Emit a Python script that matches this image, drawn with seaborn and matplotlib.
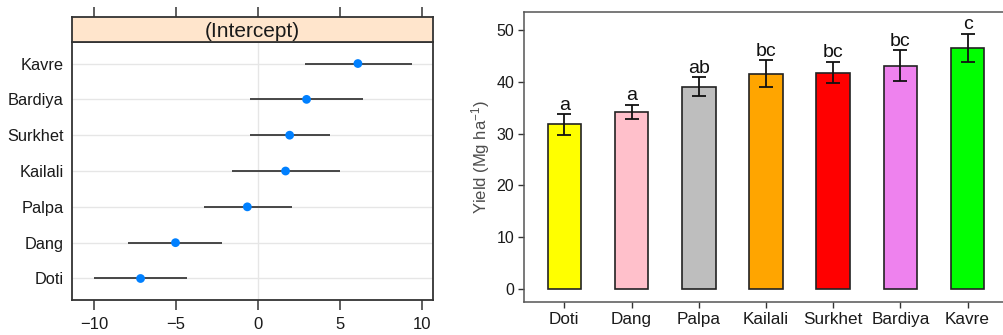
import matplotlib
matplotlib.use('Agg')
import matplotlib.pyplot as plt
import seaborn as sns
import pandas as pd

# random intercepts per district (lower CI, estimate, upper CI)
districts = ['Doti', 'Dang', 'Palpa', 'Kailali', 'Surkhet', 'Bardiya', 'Kavre']
intercept = [-7.16, -5.03, -0.65, 1.68, 1.93, 2.96, 6.09]
ci_low = [-10.02, -7.91, -3.31, -1.56, -0.51, -0.47, 2.84]
ci_high = [-4.30, -2.19, 2.07, 4.97, 4.38, 6.43, 9.37]

# mean yield per district with error bars and letter groups
yield_mean = [31.8, 34.1, 39.0, 41.5, 41.7, 43.0, 46.5]
yield_low = [29.8, 32.8, 37.3, 39.0, 39.7, 40.2, 43.8]
yield_high = [33.7, 35.5, 40.8, 44.1, 43.8, 46.0, 49.2]
groups = ['a', 'a', 'ab', 'bc', 'bc', 'bc', 'c']
bar_colors = ['#FFFF00', '#FFC0CB', '#BEBEBE', '#FFA500', '#FF0000', '#EE82EE', '#00FF00']

sns.set_style('white')
plt.rcParams['font.family'] = ['Liberation Sans', 'DejaVu Sans']
plt.rcParams['mathtext.default'] = 'regular'

fig = plt.figure(figsize=(10.04, 3.35), dpi=100)

# ---- left: dotplot of intercepts (lattice look) ----
ax1 = fig.add_axes([0.0717, 0.1045, 0.3596, 0.770])
strip = fig.add_axes([0.0717, 0.8746, 0.3596, 0.0746])

df1 = pd.DataFrame({'district': districts, 'est': intercept,
                    'lo': ci_low, 'hi': ci_high})
df1['pos'] = range(1, len(districts) + 1)

for p in df1['pos']:
    ax1.axhline(p, color='#E6E6E6', lw=1, zorder=0)
ax1.axvline(0, color='#E6E6E6', lw=1, zorder=0)
ax1.hlines(df1['pos'], df1['lo'], df1['hi'], color='#3A3A3A', lw=1.3, zorder=2)
sns.scatterplot(data=df1, x='est', y='pos', ax=ax1, color='#0080FF',
                s=40, edgecolor='none', zorder=3, legend=False)
ax1.set_xlim(-11.34, 10.67)
ax1.set_ylim(0.4, 7.6)
ax1.set_yticks(df1['pos'])
ax1.set_yticklabels(districts)
ax1.set_xticks([-10, -5, 0, 5, 10])
ax1.set_xticklabels(['\u221210', '\u22125', '0', '5', '10'])
ax1.set_xlabel('')
ax1.set_ylabel('')
ax1.tick_params(axis='y', left=False, length=0, pad=6, labelsize=11.8,
                colors='#1A1A1A')
ax1.tick_params(axis='x', bottom=True, length=7, width=1.1, color='#333333',
                pad=5, labelsize=12, labelcolor='#1A1A1A', direction='out')
for s in ax1.spines.values():
    s.set_color('#333333')
    s.set_linewidth(1.3)

strip.set_facecolor('#FFE5CC')
strip.set_xlim(ax1.get_xlim())
strip.set_ylim(0, 1)
strip.set_yticks([])
strip.set_xticks([-10, -5, 0, 5, 10])
strip.xaxis.set_ticks_position('top')
strip.tick_params(axis='x', top=True, length=7, width=1.1, color='#333333',
                  labeltop=False, labelbottom=False, direction='out')
strip.text(0.5, 0.42, '(Intercept)', transform=strip.transAxes, ha='center',
           va='center', fontsize=15, color='#1A1A1A')
for s in strip.spines.values():
    s.set_color('#333333')
    s.set_linewidth(1.3)

# ---- right: bar chart of yield ----
ax2 = fig.add_axes([0.5219, 0.0985, 0.482, 0.8657])
df2 = pd.DataFrame({'district': districts, 'yield': yield_mean})
sns.barplot(data=df2, x='district', y='yield', hue='district', palette=bar_colors,
            saturation=1, width=0.5, edgecolor='#222222', linewidth=1.2,
            legend=False, ax=ax2)
xs = list(range(len(districts)))
err = [[m - l for m, l in zip(yield_mean, yield_low)],
       [h - m for m, h in zip(yield_mean, yield_high)]]
ax2.errorbar(xs, yield_mean, yerr=err, fmt='none', ecolor='#111111',
             elinewidth=1.3, capsize=4.8, capthick=1.3, zorder=4)
for x, h, g in zip(xs, yield_high, groups):
    ax2.text(x, h + 0.1, g, ha='center', va='bottom', fontsize=14, color='#111111')
ax2.set_xlim(-0.6, 6.6)
ax2.set_ylim(-2.44, 53.4)
ax2.set_yticks([0, 10, 20, 30, 40, 50])
ax2.set_xlabel('')
ax2.set_ylabel('Yield (Mg ha$^{-1}$)', fontsize=12, color='#4D4D4D', labelpad=3)
ax2.tick_params(axis='both', bottom=True, left=True, length=4, width=1,
                color='#333333', labelsize=11.5, labelcolor='#1A1A1A',
                direction='out', pad=3)
ax2.tick_params(axis='x', labelsize=12.3)
for s in ax2.spines.values():
    s.set_color('#555555')
    s.set_linewidth(1.1)

fig.savefig('out.png', dpi=100)
